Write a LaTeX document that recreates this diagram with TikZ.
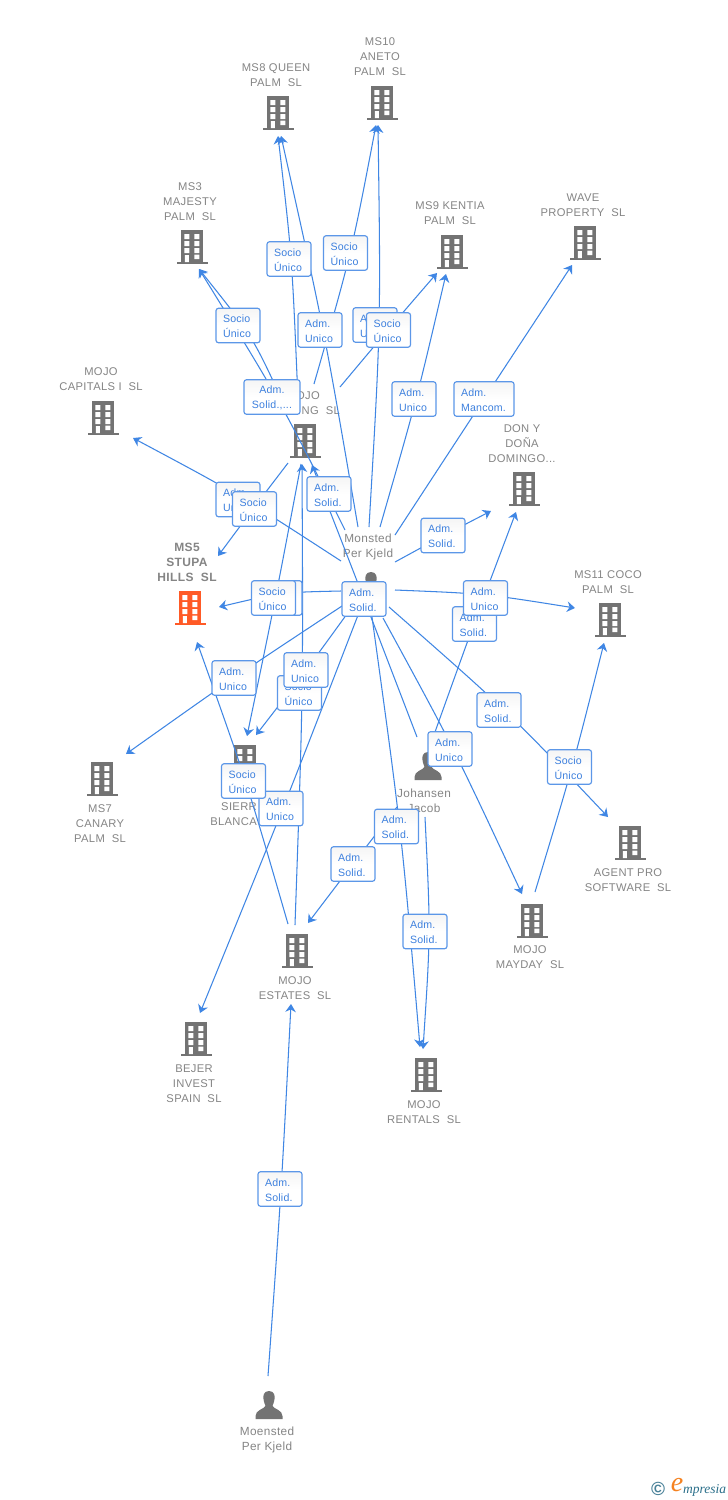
\documentclass[tikz,border=0pt]{standalone}
\usepackage{fontspec}
\setmainfont{Liberation Sans}
\newfontfamily\labfont[LetterSpace=3]{Liberation Sans}
\newfontfamily\boxfont[LetterSpace=2]{Liberation Sans}
\newfontfamily\logofont{Liberation Serif}
\usetikzlibrary{arrows.meta,calc,shadings}
\definecolor{icongray}{HTML}{737373}
\definecolor{labgray}{HTML}{858585}
\definecolor{relblue}{HTML}{3F86E4}
\definecolor{boxedge}{HTML}{5C97E8}
\definecolor{boxtext}{HTML}{3D80DE}
\definecolor{hotorange}{HTML}{FF5A26}
\definecolor{logoblue}{HTML}{4A8299}
\definecolor{logodark}{HTML}{2A6F8A}
\definecolor{logoorange}{HTML}{F58220}
\tikzset{
  x=1pt,y=-1pt,
  lab/.style={text=labgray,align=center,inner sep=0pt,yshift=-1pt,font=\labfont\fontsize{11.2}{15}\selectfont},
  labhot/.style={text=labgray,align=center,inner sep=0pt,yshift=-0.5pt,font=\labfont\bfseries\fontsize{12}{15}\selectfont},
  per/.style={text=labgray,align=center,inner sep=0pt,yshift=-1pt,font=\labfont\fontsize{11.8}{15}\selectfont},
  rel/.style={draw=relblue,line width=1.05pt,-{Stealth[length=8pt,width=10.5pt,inset=2.6pt]}},
  relbox/.style={draw=boxedge,line width=1.15pt,rounded corners=2.5pt,top color=black!4,bottom color=white,middle color=white,
    text=boxtext,minimum height=34.5pt,minimum width=44pt,inner xsep=7pt,inner ysep=0pt,text width=30pt,align=left,
    font=\boxfont\fontsize{10.6}{15}\selectfont,execute at begin node={\leavevmode\rule{0pt}{10pt}}},
  wide/.style={text width=46pt,minimum width=60pt},
  widec/.style={text width=50pt,minimum width=56pt,inner xsep=3pt,align=center},
}
% building icon: centre x, top y, colour
\newcommand\bld[3]{\begin{scope}[shift={(#1,#2)}]
  \fill[#3] (-11,0) rectangle (11,32);
  \fill[#3] (-15.5,32) rectangle (15.5,34);
  \fill[white] (-7.7,4) rectangle (-2.7,9) (2.3,4) rectangle (7.3,9)
    (-7.7,11) rectangle (-2.7,16) (2.3,11) rectangle (7.3,16)
    (-7.7,18) rectangle (-2.7,23) (2.3,18) rectangle (7.3,23)
    (-7.2,25) rectangle (-3.2,32) (2.3,24.5) rectangle (7.3,29);
\end{scope}}
% person icon: centre x, top y
\newcommand\prs[2]{\begin{scope}[shift={(#1,#2)}]
  \fill[icongray] (0,0) .. controls (-5.5,0) and (-6,5) .. (-5.5,8) .. controls (-5,12) and (-4,13) .. (-3.5,15)
    .. controls (-5,18) and (-13.5,19) .. (-13.5,25) -- (-13.5,28) -- (13.5,28) -- (13.5,25)
    .. controls (13.5,19) and (5,18) .. (3.5,15) .. controls (4,13) and (5,12) .. (5.5,8) .. controls (6,5) and (5.5,0) .. (0,0) -- cycle;
\end{scope}}
% connector: id, source, via point, tip
\newcommand\conn[4]{\coordinate (s#1) at (#2); \coordinate (v#1) at (#3); \coordinate (t#1) at (#4);
  \draw[rel] (s#1) .. controls ($1.3333*(v#1)-0.16667*(s#1)-0.16667*(t#1)$) .. (t#1);}
\begin{document}
\begin{tikzpicture}
\useasboundingbox (0,0) rectangle (728,1500);
\fill[white] (0,0) rectangle (728,1500);
% icons
\bld{278}{96}{icongray} \bld{382}{86}{icongray} \bld{192}{230}{icongray} \bld{452}{235}{icongray}
\bld{585}{226}{icongray} \bld{103}{401}{icongray} \bld{305}{424}{icongray} \bld{524}{472}{icongray}
\bld{190}{591}{hotorange} \bld{610}{603}{icongray} \bld{102}{762}{icongray} \bld{245}{745}{icongray}
\bld{630}{826}{icongray} \bld{532}{904}{icongray} \bld{297}{934}{icongray} \bld{196}{1022}{icongray}
\bld{426}{1058}{icongray}
\prs{371}{572} \prs{428}{752} \prs{269}{1391}
% labels
\node[lab] (lms8) at (276,74.5) {MS8 QUEEN\\PALM\ \ SL};
\node[lab] (lms10) at (380,56) {MS10\\ANETO\\PALM\ \ SL};
\node[lab] (lms3) at (190,201) {MS3\\MAJESTY\\PALM\ \ SL};
\node[lab] (lms9) at (450,212.5) {MS9 KENTIA\\PALM\ \ SL};
\node[lab] (lwave) at (583,204.5) {WAVE\\PROPERTY\ \ SL};
\node[lab] (lcap) at (101,378.5) {MOJO\\CAPITALS I\ \ SL};
\node[lab,anchor=east,align=right] (ling) at (340,402.5) {MOJO\hspace*{20pt}\\NG\ \ SL};
\node[lab] (ldon) at (522,443) {DON Y\\DOÑA\\DOMINGO...};
\node[labhot] (lms5) at (187,562) {MS5\\STUPA\\HILLS\ \ SL};
\node[lab] (lms11) at (608,581.5) {MS11 COCO\\PALM\ \ SL};
\node[lab] (lms7) at (100,823) {MS7\\CANARY\\PALM\ \ SL};
\node[lab,anchor=east,align=right] (lsier) at (257,813.5) {SIERR\\BLANCA};
\node[lab] (lagent) at (628,879) {AGENT PRO\\SOFTWARE\ \ SL};
\node[lab] (lmay) at (530,956.5) {MOJO\\MAYDAY\ \ SL};
\node[lab] (lest) at (295,987.5) {MOJO\\ESTATES\ \ SL};
\node[lab] (lbej) at (194,1083) {BEJER\\INVEST\\SPAIN\ \ SL};
\node[lab] (lren) at (424,1111.5) {MOJO\\RENTALS\ \ SL};
\node[per] (lmon) at (368,545.5) {Monsted\\Per Kjeld};
\node[per] (ljoh) at (424,799.5) {Johansen\\Jacob};
\node[per] (lmoe) at (267,1439) {Moensted\\Per Kjeld};
% connectors
\conn{a}{298,400}{291,259}{278,136}
\conn{b}{358,527}{323,330}{281,136}
\conn{c}{314,384}{350,253}{376,125}
\conn{d}{369,527}{379,325}{378,125}
\conn{e}{282,400}{249,335}{199,269}
\conn{f}{345,530}{278,400}{199,269}
\conn{g}{340,387}{388,330}{437,273}
\conn{h}{380,527}{416,399}{446,274}
\conn{i}{395,535}{484,399}{572,265}
\conn{j}{395,562}{443,536}{491,511}
\conn{k}{341,561}{237,495}{133,438}
\conn{l}{288,463}{253,509}{218,556}
\conn{n}{295,925}{302,693}{302,464}
\conn{o}{417,737}{364,599}{312,465}
\conn{p}{301,464}{275,600}{247,736}
\conn{q}{341,591}{281,594}{219,607}
\conn{r}{352,607}{306,670}{256,735}
\conn{s}{342,606}{234,678}{126,754}
\conn{t}{360,610}{283,808}{200,1013}
\conn{u}{288,924}{246,783}{197,642}
\conn{v}{372,617}{400,830}{420,1047}
\conn{w}{425,817}{429,933}{423,1049}
\conn{x}{397,807}{353,864}{308,923}
\conn{y}{435,732}{474,624}{516,512}
\conn{z}{395,590}{485,595}{575,608}
\conn{A}{383,618}{453,749}{522,894}
\conn{B}{389,607}{506,712}{608,817}
\conn{C}{535,892}{572,767}{604,643}
\conn{D}{268,1376}{281,1189}{291,1004}
% boxes
\node[relbox] (b1) at (375,325) {Adm.\\Unico};
\node[relbox] (b2) at (388.5,330) {Socio\\Único};
\node[relbox] (b3) at (289,259) {Socio\\Único};
\node[relbox] (b4) at (345.5,253) {Socio\\Único};
\node[relbox] (b5) at (320,330) {Adm.\\Unico};
\node[relbox] (b6) at (238,325.5) {Socio\\Único};
\node[relbox,widec] (b7) at (272,397) {Adm.\\Solid.,...};
\node[relbox] (b8) at (414,399) {Adm.\\Unico};
\node[relbox,wide] (b9) at (484,399) {Adm.\\Mancom.};
\node[relbox] (b10) at (329,494) {Adm.\\Solid.};
\node[relbox] (b11) at (238,499.5) {Adm.\\Unico};
\node[relbox] (b12) at (254.5,509) {Socio\\Único};
\node[relbox] (b13) at (443,535.5) {Adm.\\Solid.};
\node[relbox] (b14) at (280,598) {};
\node[relbox] (b15) at (273.5,598) {Socio\\Único};
\node[relbox] (b16) at (364,599) {Adm.\\Solid.};
\node[relbox] (b17) at (474.5,624) {Adm.\\Solid.};
\node[relbox] (b18) at (485.5,598) {Adm.\\Unico};
\node[relbox] (b19) at (234,678) {Adm.\\Unico};
\node[relbox] (b20) at (299.5,693) {Socio\\Único};
\node[relbox] (b21) at (306,670) {Adm.\\Unico};
\node[relbox] (b22) at (499,710) {Adm.\\Solid.};
\node[relbox] (b23) at (450,749) {Adm.\\Unico};
\node[relbox] (b24) at (569.5,767) {Socio\\Único};
\node[relbox] (b25) at (281,808.5) {Adm.\\Unico};
\node[relbox] (b26) at (243.5,781) {Socio\\Único};
\node[relbox] (b27) at (396.5,826.5) {Adm.\\Solid.};
\node[relbox] (b28) at (353,864) {Adm.\\Solid.};
\node[relbox] (b29) at (425,931.5) {Adm.\\Solid.};
\node[relbox] (b30) at (280,1189) {Adm.\\Solid.};
% logo
\node[inner sep=0pt,text=logoblue,font=\bfseries\fontsize{19}{19}\selectfont] (logoc) at (658,1489) {©};
\node[inner sep=0pt,text=logoorange,font=\logofont\itshape\fontsize{28}{28}\selectfont] (logoe) at (677,1485) {e};
\node[inner sep=0pt,anchor=west,text=logodark,font=\logofont\itshape\fontsize{13.5}{14}\selectfont] (logot) at (683,1490) {mpresia};
\end{tikzpicture}
\end{document}
